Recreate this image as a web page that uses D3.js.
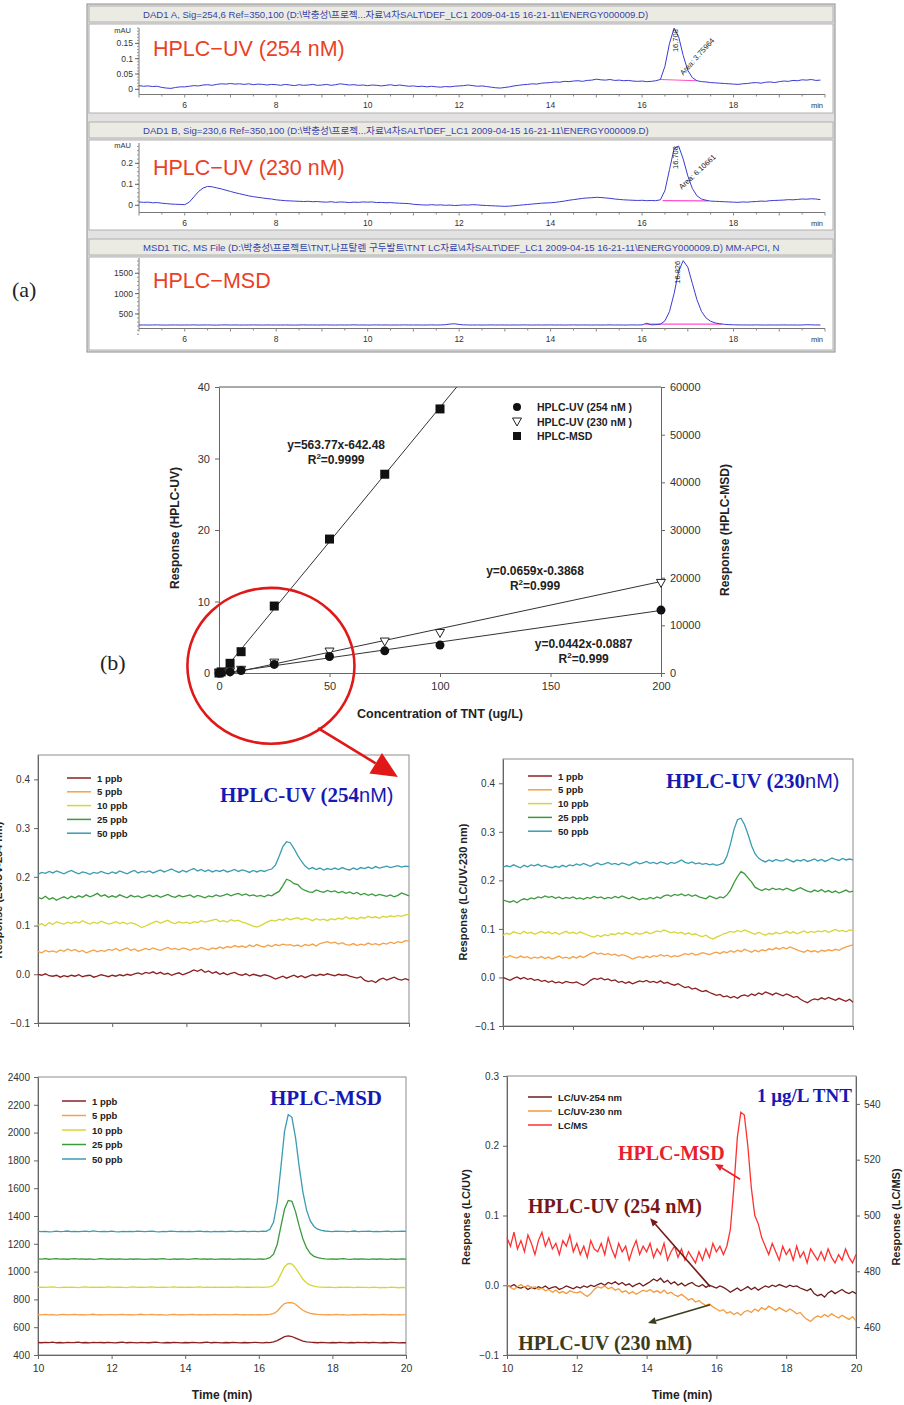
<!DOCTYPE html>
<meta charset="utf-8">
<title>TNT HPLC</title>
<style>
body { margin: 0; background: #fff; }
svg { display: block; font-family: "Liberation Sans", Arial, "Noto Sans CJK KR", sans-serif; }
</style>
<script src="https://d3js.org/d3.v7.min.js"></script>
<div id="chart"></div>
<script>

// ---------------- data : panel (a) chromatograms, 5.0 .. 19.9 min, every 0.1 min ----------------
var timeA = d3.range(150).map(function(i) { return 5 + i / 10; });

var uvA254 = [
  .012,.010,.011,.009,.010,.006,.004,.003,.006,.008, // 5
  .008,.010,.012,.011,.014,.015,.013,.016,.018,.017, // 6
  .019,.017,.018,.016,.018,.015,.017,.016,.014,.016, // 7
  .015,.013,.016,.014,.012,.015,.013,.014,.016,.013, // 8
  .014,.016,.013,.015,.018,.016,.014,.015,.013,.014, // 9
  .012,.014,.013,.011,.013,.015,.012,.014,.012,.010, // 10
  .011,.009,.010,.008,.010,.008,.007,.009,.008,.010, // 11
  .011,.012,.014,.012,.010,.011,.009,.007,.005,.004, // 12
  .006,.008,.011,.013,.015,.016,.018,.017,.020,.021, // 13
  .022,.024,.023,.026,.025,.027,.028,.026,.029,.030, // 14
  .033,.031,.030,.032,.029,.030,.028,.029,.027,.026, // 15
  .027,.025,.026,.028,.032,.075,.150,.200,.172,.110, // 16
  .062,.038,.028,.025,.024,.022,.021,.020,.019,.018, // 17
  .017,.016,.018,.019,.021,.022,.020,.023,.024,.022, // 18
  .025,.027,.026,.029,.028,.031,.030,.032,.029,.030  // 19
];

var uvA230 = [
  .016,.014,.015,.012,.013,.010,.008,.006,.005,.004,
  .003,.015,.040,.065,.082,.090,.088,.083,.078,.072,
  .066,.060,.055,.050,.045,.041,.038,.035,.032,.030,
  .026,.024,.022,.021,.020,.019,.018,.019,.017,.018,
  .016,.015,.017,.014,.016,.015,.013,.015,.014,.016,
  .015,.016,.013,.014,.012,.013,.011,.010,.009,.008,
  .005,.003,.002,.001,.003,.001,.002,.000,.001,-.001,
  .000,.002,.001,.003,.002,.000,-.001,-.002,-.003,-.004,
  -.005,-.004,-.002,.000,.002,.004,.006,.008,.010,.011,
  .012,.014,.017,.020,.024,.027,.030,.033,.035,.036,
  .038,.037,.035,.033,.030,.028,.026,.025,.024,.023,
  .024,.022,.023,.022,.026,.070,.170,.270,.282,.220,
  .140,.080,.045,.030,.024,.020,.019,.018,.017,.016,
  .015,.014,.016,.015,.017,.018,.020,.019,.022,.023,
  .024,.025,.027,.026,.028,.030,.029,.031,.030,.027
];

var msdA = [
  228,230,227,229,231,228,226,229,230,227,
  229,228,231,227,229,230,228,226,229,231,
  228,230,227,229,228,231,229,227,230,228,
  229,227,230,228,226,229,231,228,230,227,
  229,231,228,227,230,228,229,232,228,230,
  227,229,231,228,230,227,229,228,231,229,
  228,230,227,229,231,228,230,236,252,258,
  242,232,229,228,230,227,229,231,228,230,
  229,227,230,228,231,229,227,230,228,229,
  231,228,230,227,229,231,228,230,229,227,
  230,228,229,231,228,230,227,229,231,228,
  232,270,233,236,250,330,560,1000,1550,1810,
  1650,1250,850,560,400,320,280,258,245,238,
  233,231,229,230,228,231,229,227,230,228,
  229,231,228,230,227,229,236,232,230,229
];

var aHeaders = [
  "DAD1 A, Sig=254,6 Ref=350,100 (D:\\박충성\\프로젝...자료\\4차SALT\\DEF_LC1 2009-04-15 16-21-11\\ENERGY000009.D)",
  "DAD1 B, Sig=230,6 Ref=350,100 (D:\\박충성\\프로젝...자료\\4차SALT\\DEF_LC1 2009-04-15 16-21-11\\ENERGY000009.D)",
  "MSD1 TIC, MS File (D:\\박충성\\프로젝트\\TNT,나프탈렌 구두발트\\TNT LC자료\\4차SALT\\DEF_LC1 2009-04-15 16-21-11\\ENERGY000009.D)     MM-APCI, N"
];
var aLabels = ["HPLC\u2212UV (254 nM)", "HPLC\u2212UV (230 nM)", "HPLC\u2212MSD"];
var peakTimes = ["16.708", "16.708", "16.826"];
var peakAreas = ["Area: 3.75964", "Area: 6.10661", null];

// ---------------- data : panel (b) calibration ----------------
var concUV = [0, 1, 5, 10, 25, 50, 75, 100, 200];
var resp254 = [0, 0.05, 0.15, 0.35, 1.2, 2.3, 3.1, 3.9, 8.8];
var resp230 = [0, 0.05, 0.2, 0.45, 1.45, 3.0, 4.4, 5.6, 12.6];
var concMSD = [0, 1, 5, 10, 25, 50, 75, 100];
var respMSD = [0, 230, 2030, 4470, 14050, 28100, 41700, 55400];
var fit254 = [0.0442, -0.0887];
var fit230 = [0.0659, -0.3868];
var fitMSD = [563.77, -642.48];

// ---------------- data : lower chromatograms, 10.0 .. 20.0 min, every 0.1 min ----------------
var timeB = d3.range(101).map(function(i) { return 10 + i / 10; });
var ppbNames = ["1 ppb", "5 ppb", "10 ppb", "25 ppb", "50 ppb"];
var ppbColors = ["#8b2020", "#f5a046", "#d6d638", "#3c9a3c", "#3a9cb0"];

var uv254_1 = [
  .000,-.002,.001,-.003,-.004,-.002,-.006,-.003,-.005,-.002,
  -.004,-.001,-.005,-.003,-.002,-.006,-.004,-.001,-.003,-.005,
  -.002,-.004,-.001,-.003,.000,-.002,.001,.003,.000,.004,
  .002,.005,.001,.004,.000,.002,-.002,.001,.003,-.001,
  .002,.005,.009,.006,.010,.004,.007,.002,.005,.000,
  .003,-.001,.002,.004,.000,-.002,.001,-.003,.000,-.002,
  -.004,-.001,-.003,-.006,-.010,-.007,-.004,-.008,-.005,-.002,
  -.006,-.003,-.007,-.004,-.001,-.003,.000,-.002,.001,-.001,
  -.003,.000,-.002,-.001,-.004,-.006,-.008,-.005,-.012,-.015,
  -.013,-.017,-.011,-.008,-.012,-.009,-.006,-.010,-.012,-.009,
  -.012
];
var uv254_5 = [
  .047,.044,.049,.046,.048,.045,.050,.047,.052,.048,
  .051,.046,.049,.044,.047,.050,.046,.049,.047,.051,
  .049,.053,.048,.051,.054,.049,.052,.047,.050,.053,
  .050,.054,.051,.049,.052,.055,.051,.053,.050,.054,
  .052,.049,.053,.051,.055,.052,.050,.054,.052,.056,
  .053,.057,.055,.059,.056,.058,.055,.060,.057,.061,
  .058,.056,.060,.057,.061,.059,.062,.060,.061,.058,
  .060,.057,.061,.059,.062,.058,.063,.065,.067,.064,
  .066,.062,.065,.061,.060,.063,.059,.062,.060,.064,
  .061,.063,.060,.064,.062,.066,.063,.067,.065,.069,
  .068
];
var uv254_10 = [
  .100,.104,.099,.106,.102,.108,.105,.103,.107,.104,
  .108,.105,.110,.106,.103,.107,.104,.109,.106,.103,
  .105,.108,.104,.107,.103,.106,.104,.100,.096,.099,
  .103,.106,.109,.105,.108,.111,.106,.104,.108,.105,
  .107,.104,.108,.106,.110,.107,.109,.111,.113,.108,
  .110,.107,.112,.109,.111,.107,.105,.102,.099,.097,
  .100,.104,.108,.111,.109,.113,.111,.115,.112,.114,
  .116,.112,.115,.113,.110,.114,.111,.113,.110,.114,
  .112,.115,.113,.118,.114,.116,.113,.117,.115,.119,
  .116,.118,.115,.119,.117,.120,.118,.121,.119,.122,
  .123
];
var uv254_25 = [
  .158,.155,.160,.154,.157,.152,.156,.159,.155,.160,
  .157,.161,.158,.163,.159,.162,.166,.160,.163,.158,
  .161,.158,.163,.160,.157,.162,.159,.161,.157,.160,
  .163,.159,.162,.158,.161,.164,.160,.158,.162,.159,
  .161,.163,.158,.162,.160,.157,.161,.159,.163,.160,
  .162,.165,.161,.164,.166,.162,.165,.161,.163,.160,
  .162,.159,.163,.161,.166,.170,.182,.195,.192,.186,
  .184,.176,.172,.169,.168,.173,.170,.168,.172,.169,
  .171,.167,.170,.166,.169,.165,.168,.163,.166,.162,
  .165,.161,.164,.162,.160,.163,.159,.162,.167,.164,
  .161
];
var uv254_50 = [
  .205,.209,.207,.211,.208,.212,.209,.206,.210,.213,
  .209,.206,.210,.208,.205,.209,.207,.211,.208,.206,
  .210,.207,.212,.209,.206,.210,.213,.208,.211,.209,
  .212,.208,.211,.214,.210,.213,.216,.212,.209,.213,
  .210,.214,.217,.212,.215,.211,.214,.210,.213,.211,
  .214,.210,.212,.215,.211,.214,.212,.209,.213,.210,
  .213,.211,.214,.216,.224,.242,.262,.272,.270,.258,
  .244,.232,.222,.216,.219,.215,.218,.214,.217,.215,
  .218,.215,.219,.216,.214,.218,.215,.219,.217,.220,
  .217,.221,.218,.220,.222,.219,.221,.223,.220,.222,
  .221
];

var uv230_1 = [
  .000,-.003,-.006,-.002,.001,-.003,.000,-.004,-.002,-.006,
  -.004,-.008,-.006,-.010,-.007,-.011,-.009,-.012,-.008,-.010,
  -.011,-.009,-.013,-.016,-.012,-.006,-.002,-.004,-.001,-.005,
  -.003,-.007,-.005,-.010,-.008,-.012,-.009,-.013,-.010,-.007,
  -.009,-.006,-.010,-.008,-.011,-.007,-.012,-.010,-.014,-.016,
  -.013,-.017,-.021,-.019,-.024,-.022,-.026,-.029,-.027,-.031,
  -.034,-.037,-.035,-.040,-.038,-.042,-.039,-.043,-.038,-.036,
  -.039,-.034,-.037,-.032,-.035,-.030,-.033,-.036,-.032,-.035,
  -.038,-.034,-.037,-.041,-.039,-.045,-.049,-.052,-.047,-.044,
  -.046,-.042,-.045,-.041,-.044,-.047,-.043,-.046,-.049,-.045,
  -.051
];
var uv230_5 = [
  .044,.041,.045,.042,.040,.044,.041,.043,.039,.042,
  .040,.043,.039,.042,.038,.041,.044,.040,.042,.039,
  .043,.040,.044,.041,.045,.049,.052,.048,.050,.047,
  .049,.046,.048,.044,.047,.045,.042,.038,.041,.043,
  .040,.044,.041,.045,.043,.047,.044,.046,.042,.045,
  .043,.046,.049,.047,.050,.046,.048,.051,.049,.047,
  .050,.052,.049,.053,.051,.055,.052,.056,.053,.058,
  .055,.052,.056,.053,.057,.055,.059,.057,.061,.058,
  .062,.059,.063,.060,.057,.054,.052,.056,.053,.055,
  .052,.056,.054,.057,.055,.058,.056,.060,.063,.065,
  .067
];
var uv230_10 = [
  .087,.091,.089,.094,.092,.090,.095,.091,.093,.089,
  .092,.095,.091,.094,.090,.093,.089,.092,.095,.091,
  .093,.090,.094,.091,.088,.085,.083,.087,.084,.088,
  .086,.090,.088,.092,.089,.093,.091,.088,.092,.089,
  .091,.094,.090,.093,.096,.094,.098,.095,.092,.094,
  .091,.093,.089,.092,.088,.090,.086,.084,.087,.082,
  .079,.083,.086,.090,.092,.095,.093,.097,.094,.098,
  .095,.092,.089,.093,.090,.087,.091,.089,.093,.090,
  .092,.095,.091,.094,.090,.093,.096,.092,.095,.093,
  .096,.094,.097,.093,.096,.099,.095,.097,.094,.098,
  .097
];
var uv230_25 = [
  .160,.157,.155,.158,.154,.159,.162,.160,.164,.162,
  .166,.164,.168,.165,.167,.163,.166,.162,.165,.163,
  .166,.162,.164,.161,.165,.163,.167,.164,.166,.162,
  .165,.163,.167,.164,.168,.165,.162,.166,.163,.160,
  .163,.161,.165,.162,.166,.163,.168,.170,.167,.171,
  .169,.172,.168,.171,.167,.170,.166,.164,.162,.168,
  .165,.162,.166,.164,.170,.180,.195,.208,.218,.214,
  .205,.197,.186,.182,.179,.183,.180,.184,.181,.183,
  .180,.184,.181,.178,.182,.185,.181,.178,.176,.180,
  .177,.181,.176,.179,.175,.178,.174,.177,.180,.176,
  .178
];
var uv230_50 = [
  .227,.230,.228,.232,.229,.226,.231,.228,.232,.230,
  .233,.229,.231,.228,.226,.229,.227,.231,.228,.232,
  .230,.234,.231,.235,.232,.229,.233,.236,.232,.234,
  .237,.233,.235,.232,.236,.234,.231,.235,.238,.234,
  .236,.239,.235,.237,.234,.238,.236,.233,.237,.235,
  .238,.242,.237,.235,.238,.234,.236,.233,.235,.232,
  .234,.231,.233,.236,.250,.275,.305,.325,.328,.315,
  .295,.272,.255,.246,.241,.238,.242,.239,.243,.240,
  .240,.244,.241,.238,.242,.240,.243,.239,.241,.244,
  .240,.243,.239,.242,.246,.243,.241,.245,.242,.244,
  .242
];

var msd_1 = [
  490,488,491,489,492,488,490,487,491,489,
  490,492,488,490,487,491,489,490,488,491,
  489,487,490,492,488,490,489,487,491,489,
  488,490,492,489,487,490,488,491,489,487,
  490,488,491,489,487,490,492,488,490,489,
  487,490,488,491,489,487,490,488,489,491,
  489,487,490,489,494,503,518,532,537,533,
  522,510,500,495,492,490,488,491,489,487,
  490,488,491,489,487,490,488,491,489,490,
  488,491,489,487,490,488,491,489,487,489,
  488
];
var msd_5 = [
  690,688,692,689,691,687,690,692,688,690,
  692,689,691,688,690,693,689,691,688,690,
  691,688,690,692,689,691,688,690,693,689,
  690,692,688,691,689,687,690,692,689,691,
  688,690,692,689,691,688,690,689,692,688,
  690,691,688,690,692,689,691,688,690,689,
  691,688,690,692,698,715,745,770,777,776,
  765,742,722,708,700,695,692,690,688,691,
  689,692,688,690,687,689,691,688,690,692,
  689,691,688,690,692,689,691,688,690,689,
  691
];
var msd_10 = [
  887,889,886,888,890,887,885,888,886,889,
  887,885,888,890,887,889,886,888,887,890,
  888,886,889,887,885,888,890,887,889,886,
  888,890,887,886,889,887,888,890,886,888,
  887,889,886,888,890,887,889,886,888,887,
  889,886,888,887,890,888,886,889,887,889,
  888,886,889,890,900,930,982,1035,1058,1055,
  1025,985,945,918,903,895,890,888,886,889,
  887,885,888,886,889,887,885,888,886,887,
  885,888,886,884,887,885,888,886,884,886,
  885
];
var msd_25 = [
  1092,1090,1093,1089,1091,1094,1090,1092,1089,1091,
  1093,1090,1092,1089,1091,1088,1090,1093,1091,1089,
  1091,1089,1092,1090,1088,1091,1089,1092,1090,1088,
  1090,1092,1089,1091,1093,1090,1088,1091,1089,1092,
  1090,1088,1091,1093,1090,1092,1089,1091,1088,1090,
  1092,1089,1091,1088,1090,1092,1089,1091,1090,1088,
  1091,1089,1092,1100,1125,1195,1325,1450,1512,1505,
  1430,1325,1235,1170,1130,1110,1100,1095,1092,1090,
  1092,1089,1091,1093,1090,1088,1091,1089,1092,1090,
  1088,1091,1089,1092,1090,1088,1091,1089,1090,1092,
  1090
];
var msd_50 = [
  1290,1287,1289,1286,1288,1291,1287,1289,1292,1288,
  1290,1287,1289,1291,1288,1293,1289,1287,1290,1288,
  1291,1288,1286,1289,1287,1290,1288,1291,1289,1287,
  1289,1291,1288,1286,1290,1288,1291,1289,1287,1290,
  1288,1290,1287,1289,1291,1288,1290,1286,1289,1288,
  1290,1288,1291,1289,1287,1289,1291,1288,1290,1289,
  1288,1291,1290,1305,1355,1500,1750,2010,2130,2110,
  1960,1750,1570,1440,1365,1325,1305,1296,1292,1290,
  1288,1291,1289,1290,1287,1289,1292,1288,1290,1289,
  1291,1288,1290,1287,1289,1291,1288,1290,1289,1291,
  1290
];

// LC/MS trace of the 1 ug/L run (right axis)
var lcms_1 = [
  492,489,494,488,491,487,493,490,486,491,
  494,489,492,488,490,486,491,489,493,487,
  490,486,489,485,491,488,487,490,486,492,
  488,485,490,487,489,484,488,491,486,489,
  487,490,485,488,486,490,484,487,489,485,
  488,484,487,485,483,487,484,488,485,490,
  487,489,486,489,495,510,528,537,536,525,
  510,500,497,492,489,486,490,487,484,489,
  486,488,484,489,485,487,483,488,486,484,
  487,484,488,485,483,486,484,488,485,483,
  486
];

// ====================================================================
var svg = d3.select("#chart").append("svg")
  .attr("width", 904).attr("height", 1405);
svg.append("rect").attr("width", 904).attr("height", 1405).attr("fill", "#fff");

function styleAxis(g, size) {
  g.attr("font-family", null).attr("font-size", size);
  g.select(".domain").attr("stroke", "#666");
  g.selectAll(".tick line").attr("stroke", "#666");
  g.selectAll(".tick text").attr("fill", "#333");
}

// ---------------- panel (a) ----------------
svg.append("rect").attr("x", 87).attr("y", 4).attr("width", 748).attr("height", 348)
  .attr("fill", "#e2e2e2").attr("stroke", "#8c8c8c");

var xa = d3.scaleLinear().domain([5, 20]).range([139, 825]);
var aPanels = [
  { top: 6, bottom: 113, values: uvA254, y: d3.scaleLinear().domain([0, 0.2]).range([89.3, 28.1]),
    axisY: 94.5, yTop: 28, major: [0, 0.05, 0.1, 0.15], minorStep: 0.01, unit: "mAU", labelY: 56,
    base: [[16.4, 0.032], [17.2, 0.028]], peakPos: [16.78, 0.2], areaPos: [16.9, 0.044], areaAngle: -48 },
  { top: 122, bottom: 230, values: uvA230, y: d3.scaleLinear().domain([0, 0.1]).range([205.3, 184.3]),
    axisY: 212.5, yTop: 143, major: [0, 0.1, 0.2], minorStep: 0.02, unit: "mAU", labelY: 174.5,
    base: [[16.45, 0.022], [17.45, 0.021]], peakPos: [16.78, 0.287], areaPos: [16.87, 0.074], areaAngle: -43 },
  { top: 239, bottom: 350, values: msdA, y: d3.scaleLinear().domain([0, 1000]).range([334.3, 293.6]),
    axisY: 328.5, yTop: 258, major: [500, 1000, 1500], minorStep: 100, unit: null, labelY: 287.5,
    base: [[16.07, 250], [17.74, 250]], peakPos: [16.84, 1830], areaPos: null, areaAngle: 0 }
];

aPanels.forEach(function(p, i) {
  var g = svg.append("g");
  var y = p.y;
  var x0 = xa.range()[0], x1 = xa.range()[1];
  g.append("rect").attr("x", 89).attr("y", p.top).attr("width", 744).attr("height", 16)
    .attr("fill", "#ecebe3").attr("stroke", "#b0b0b0");
  g.append("rect").attr("x", 89).attr("y", p.top + 18).attr("width", 744).attr("height", p.bottom - p.top - 18)
    .attr("fill", "#fff").attr("stroke", "#b0b0b0");
  g.append("text").attr("x", 143).attr("y", p.top + 11.5).attr("font-size", 9.6)
    .attr("fill", "#3444aa").text(aHeaders[i]);

  // y axis
  g.append("line").attr("x1", x0).attr("x2", x0).attr("y1", p.axisY).attr("y2", p.yTop)
    .attr("stroke", "#777");
  var vmax = y.invert(p.yTop);
  d3.range(0, vmax, p.minorStep).forEach(function(v) {
    g.append("line").attr("x1", x0 - 2).attr("x2", x0).attr("y1", y(v)).attr("y2", y(v)).attr("stroke", "#999");
  });
  p.major.forEach(function(v) {
    g.append("line").attr("x1", x0 - 4).attr("x2", x0).attr("y1", y(v)).attr("y2", y(v)).attr("stroke", "#666");
    g.append("text").attr("x", x0 - 6).attr("y", y(v) + 3).attr("text-anchor", "end")
      .attr("font-size", 8.5).attr("fill", "#333").text(String(v));
  });
  if (p.unit) {
    g.append("text").attr("x", x0 - 8).attr("y", p.yTop + 5).attr("text-anchor", "end")
      .attr("font-size", 7.5).attr("fill", "#333").text(p.unit);
  }

  // x axis
  g.append("line").attr("x1", x0).attr("x2", x1).attr("y1", p.axisY).attr("y2", p.axisY).attr("stroke", "#777");
  d3.range(0, 31).forEach(function(k) {
    var t = 5 + k / 2;
    g.append("line").attr("x1", xa(t)).attr("x2", xa(t)).attr("y1", p.axisY)
      .attr("y2", p.axisY + (k % 2 === 0 ? 3 : 2)).attr("stroke", "#888");
  });
  [6, 8, 10, 12, 14, 16, 18].forEach(function(t) {
    g.append("text").attr("x", xa(t)).attr("y", p.axisY + 13).attr("text-anchor", "middle")
      .attr("font-size", 8.5).attr("fill", "#333").text(t);
  });
  g.append("text").attr("x", x1 - 2).attr("y", p.axisY + 13).attr("text-anchor", "end")
    .attr("font-size", 7.5).attr("fill", "#333").text("min");

  // integration baseline
  g.append("line").attr("x1", xa(p.base[0][0])).attr("y1", y(p.base[0][1]))
    .attr("x2", xa(p.base[1][0])).attr("y2", y(p.base[1][1]))
    .attr("stroke", "#ff4fc8").attr("stroke-width", 1.2);

  // trace
  var line = d3.line().x(function(d, k) { return xa(timeA[k]); }).y(function(d) { return y(d); });
  g.append("path").datum(p.values).attr("d", line).attr("fill", "none")
    .attr("stroke", "#3b3bd6").attr("stroke-width", 1);

  // peak annotations
  g.append("text").attr("transform", "translate(" + xa(p.peakPos[0]) + "," + (y(p.peakPos[1]) + 1) + ") rotate(-90)")
    .attr("text-anchor", "end").attr("font-size", 7.5).attr("fill", "#222").text(peakTimes[i]);
  if (p.areaPos) {
    g.append("text").attr("transform", "translate(" + xa(p.areaPos[0]) + "," + y(p.areaPos[1]) + ") rotate(" + p.areaAngle + ")")
      .attr("font-size", 7.5).attr("fill", "#222").text(peakAreas[i]);
  }

  // big red label
  g.append("text").attr("x", 153).attr("y", p.labelY).attr("font-size", 21.5)
    .attr("fill", "#ea4125").text(aLabels[i]);
});

svg.append("text").attr("x", 12).attr("y", 297).attr("font-family", "Liberation Serif, serif")
  .attr("font-size", 22).attr("fill", "#222").text("(a)");
svg.append("text").attr("x", 100).attr("y", 670).attr("font-family", "Liberation Serif, serif")
  .attr("font-size", 22).attr("fill", "#222").text("(b)");

// ---------------- panel (b) calibration ----------------
var xb = d3.scaleLinear().domain([0, 200]).range([219, 661]);
var ybL = d3.scaleLinear().domain([0, 40]).range([673, 387]);
var ybR = d3.scaleLinear().domain([0, 60000]).range([673, 387]);
var gb = svg.append("g");

gb.append("clipPath").attr("id", "clipB").append("rect")
  .attr("x", 219).attr("y", 387).attr("width", 442).attr("height", 286);

gb.append("line").attr("x1", 219).attr("x2", 661).attr("y1", 387).attr("y2", 387).attr("stroke", "#555");
var gbx = gb.append("g").attr("transform", "translate(0,673)")
  .call(d3.axisBottom(xb).tickValues([0, 50, 100, 150, 200]).tickSize(4).tickSizeOuter(0).tickPadding(5));
styleAxis(gbx, 11);
var gby = gb.append("g").attr("transform", "translate(219,0)")
  .call(d3.axisLeft(ybL).tickValues([0, 10, 20, 30, 40]).tickSize(4).tickSizeOuter(0).tickPadding(5));
styleAxis(gby, 11);
var gbr = gb.append("g").attr("transform", "translate(661,0)")
  .call(d3.axisRight(ybR).tickValues(d3.range(0, 60001, 10000)).tickSize(4).tickSizeOuter(0)
    .tickPadding(5).tickFormat(d3.format("d")));
styleAxis(gbr, 11);

var fits = gb.append("g").attr("clip-path", "url(#clipB)");
[[fit254, 0, 200, ybL], [fit230, 0, 200, ybL], [fitMSD, 0, 120, ybR]].forEach(function(f) {
  var c = f[0];
  fits.append("line").attr("x1", xb(f[1])).attr("y1", f[3](c[0] * f[1] + c[1]))
    .attr("x2", xb(f[2])).attr("y2", f[3](c[0] * f[2] + c[1]))
    .attr("stroke", "#333").attr("stroke-width", 1);
});

var triPath = "M-4.5,-3.5L4.5,-3.5L0,4.5Z";
gb.selectAll(".sq").data(concMSD).enter().append("rect")
  .attr("x", function(d) { return xb(d) - 4.5; })
  .attr("y", function(d, i) { return ybR(respMSD[i]) - 4.5; })
  .attr("width", 9).attr("height", 9).attr("fill", "#111");
gb.selectAll(".tri").data(concUV).enter().append("path")
  .attr("d", triPath)
  .attr("transform", function(d, i) { return "translate(" + xb(d) + "," + ybL(resp230[i]) + ")"; })
  .attr("fill", "#fff").attr("stroke", "#222");
gb.selectAll(".cir").data(concUV).enter().append("circle")
  .attr("cx", function(d) { return xb(d); })
  .attr("cy", function(d, i) { return ybL(resp254[i]); })
  .attr("r", 4.5).attr("fill", "#111");

// legend
var legB = [["circle", "HPLC-UV (254 nM )"], ["tri", "HPLC-UV (230 nM )"], ["square", "HPLC-MSD"]];
legB.forEach(function(l, i) {
  var ly = 407 + i * 14.5;
  if (l[0] === "circle") gb.append("circle").attr("cx", 517).attr("cy", ly).attr("r", 4).attr("fill", "#111");
  if (l[0] === "tri") gb.append("path").attr("d", triPath).attr("transform", "translate(517," + ly + ")")
    .attr("fill", "#fff").attr("stroke", "#222");
  if (l[0] === "square") gb.append("rect").attr("x", 513).attr("y", ly - 4).attr("width", 8).attr("height", 8).attr("fill", "#111");
  gb.append("text").attr("x", 537).attr("y", ly + 4).attr("font-size", 10.5).attr("font-weight", "bold")
    .attr("fill", "#222").text(l[1]);
});

// equations
var eqs = [
  ["y=563.77x-642.48", "0.9999", 53, 31.3],
  ["y=0.0659x-0.3868", "0.999", 143, 13.7],
  ["y=0.0442x-0.0887", "0.999", 165, 3.5]
];
eqs.forEach(function(e) {
  gb.append("text").attr("x", xb(e[2])).attr("y", ybL(e[3])).attr("text-anchor", "middle")
    .attr("font-size", 12).attr("font-weight", "bold").attr("fill", "#222").text(e[0]);
  var r = gb.append("text").attr("x", xb(e[2])).attr("y", ybL(e[3]) + 15).attr("text-anchor", "middle")
    .attr("font-size", 12).attr("font-weight", "bold").attr("fill", "#222");
  r.append("tspan").text("R");
  r.append("tspan").attr("dy", -5).attr("font-size", 8).text("2");
  r.append("tspan").attr("dy", 5).text("=" + e[1]);
});

gb.append("text").attr("transform", "translate(179,528) rotate(-90)").attr("text-anchor", "middle")
  .attr("font-size", 12).attr("font-weight", "bold").attr("fill", "#222").text("Response (HPLC-UV)");
gb.append("text").attr("transform", "translate(729,530) rotate(-90)").attr("text-anchor", "middle")
  .attr("font-size", 12).attr("font-weight", "bold").attr("fill", "#222").text("Response (HPLC-MSD)");
gb.append("text").attr("x", 440).attr("y", 718).attr("text-anchor", "middle")
  .attr("font-size", 12.5).attr("font-weight", "bold").attr("fill", "#222").text("Concentration of TNT (ug/L)");

// ---------------- lower chromatogram plots ----------------
function tracePlot(o) {
  var x = d3.scaleLinear().domain([10, 20]).range(o.xr);
  var y = d3.scaleLinear().domain(o.yd).range(o.yr);
  var g = svg.append("g");
  g.append("rect").attr("x", o.xr[0]).attr("y", o.yr[1]).attr("width", o.xr[1] - o.xr[0])
    .attr("height", o.yr[0] - o.yr[1]).attr("fill", "none").attr("stroke", "#8c8c8c");
  var gx = g.append("g").attr("transform", "translate(0," + o.yr[0] + ")")
    .call(d3.axisBottom(x).tickValues(d3.range(10, 21, 2)).tickSize(4).tickSizeOuter(0)
      .tickPadding(6).tickFormat(o.xLabels ? d3.format("d") : ""));
  styleAxis(gx, 10.5);
  var gy = g.append("g").attr("transform", "translate(" + o.xr[0] + ",0)")
    .call(d3.axisLeft(y).tickValues(o.yTicks).tickSize(4).tickSizeOuter(0).tickPadding(4).tickFormat(o.yFmt));
  styleAxis(gy, 10);
  var line = d3.line().x(function(d, k) { return x(timeB[k]); }).y(function(d) { return y(d); });
  o.series.forEach(function(s) {
    g.append("path").datum(s.values).attr("d", line).attr("fill", "none")
      .attr("stroke", s.color).attr("stroke-width", 1.3);
  });
  o.legend.forEach(function(s, i) {
    var ly = o.legY + i * o.legStep;
    g.append("line").attr("x1", o.legX).attr("x2", o.legX + 24).attr("y1", ly).attr("y2", ly)
      .attr("stroke", s.color).attr("stroke-width", 1.5);
    g.append("text").attr("x", o.legX + 30).attr("y", ly + 3.5).attr("font-size", 9.5)
      .attr("font-weight", "bold").attr("fill", "#222").text(s.name);
  });
  return { x: x, y: y, g: g };
}

function blueTitle(g, x, y, size, serifPart, sansPart) {
  var t = g.append("text").attr("x", x).attr("y", y).attr("fill", "#1818b4");
  t.append("tspan").attr("font-family", "Liberation Serif, serif").attr("font-weight", "bold")
    .attr("font-size", size).text(serifPart);
  if (sansPart) t.append("tspan").attr("font-family", "Liberation Sans, sans-serif")
    .attr("font-size", size - 1).text(sansPart);
}

var f1 = d3.format(".1f");
var ppbSeries = function(arrs) {
  return arrs.map(function(a, i) { return { name: ppbNames[i], color: ppbColors[i], values: a }; });
};

// HPLC-UV 254
var s254 = ppbSeries([uv254_1, uv254_5, uv254_10, uv254_25, uv254_50]);
var pA = tracePlot({ xr: [38, 409], yr: [1023, 755], yd: [-0.1, 0.45], yTicks: [-0.1, 0, 0.1, 0.2, 0.3, 0.4],
  yFmt: f1, xLabels: false, series: s254, legend: s254, legX: 67, legY: 778, legStep: 13.8 });
blueTitle(pA.g, 220, 802, 21, "HPLC-UV (254", "nM)");
svg.append("text").attr("transform", "translate(2,890) rotate(-90)").attr("text-anchor", "middle")
  .attr("font-size", 11).attr("font-weight", "bold").attr("fill", "#222").text("Response (LC/UV-254 nm)");

// HPLC-UV 230
var s230 = ppbSeries([uv230_1, uv230_5, uv230_10, uv230_25, uv230_50]);
var pB = tracePlot({ xr: [503, 853], yr: [1026, 759], yd: [-0.1, 0.45], yTicks: [-0.1, 0, 0.1, 0.2, 0.3, 0.4],
  yFmt: f1, xLabels: false, series: s230, legend: s230, legX: 528, legY: 776, legStep: 13.8 });
blueTitle(pB.g, 666, 788, 21, "HPLC-UV (230", "nM)");
svg.append("text").attr("transform", "translate(467,892) rotate(-90)").attr("text-anchor", "middle")
  .attr("font-size", 11).attr("font-weight", "bold").attr("fill", "#222").text("Response (LC/UV-230 nm)");

// HPLC-MSD
var sMsd = ppbSeries([msd_1, msd_5, msd_10, msd_25, msd_50]);
var pC = tracePlot({ xr: [38, 406], yr: [1355, 1077], yd: [400, 2400], yTicks: d3.range(400, 2401, 200),
  yFmt: d3.format("d"), xLabels: true, series: sMsd, legend: sMsd, legX: 62, legY: 1101, legStep: 14.5 });
blueTitle(pC.g, 270, 1105, 21, "HPLC-MSD", null);
svg.append("text").attr("x", 222).attr("y", 1399).attr("text-anchor", "middle")
  .attr("font-size", 12).attr("font-weight", "bold").attr("fill", "#222").text("Time (min)");

// 1 ug/L comparison
var sCmp = [
  { name: "LC/UV-254 nm", color: "#6e1c1c", values: uv254_1 },
  { name: "LC/UV-230 nm", color: "#f39a3c", values: uv230_1 }
];
var pD = tracePlot({ xr: [507, 856], yr: [1355, 1076], yd: [-0.1, 0.3], yTicks: [-0.1, 0, 0.1, 0.2, 0.3],
  yFmt: f1, xLabels: true, series: sCmp, legend: sCmp.concat([{ name: "LC/MS", color: "#ff3030" }]),
  legX: 528, legY: 1097, legStep: 14 });
var yD2 = d3.scaleLinear().domain([450, 550]).range([1355, 1076]);
var gd2 = pD.g.append("g").attr("transform", "translate(856,0)")
  .call(d3.axisRight(yD2).tickValues([460, 480, 500, 520, 540]).tickSize(4).tickSizeOuter(0).tickPadding(4));
styleAxis(gd2, 10);
pD.g.append("path").datum(lcms_1)
  .attr("d", d3.line().x(function(d, k) { return pD.x(timeB[k]); }).y(function(d) { return yD2(d); }))
  .attr("fill", "none").attr("stroke", "#ff3030").attr("stroke-width", 1.3);
blueTitle(pD.g, 757, 1102, 19, "1 \u03bcg/L TNT", null);
svg.append("text").attr("x", 682).attr("y", 1399).attr("text-anchor", "middle")
  .attr("font-size", 12).attr("font-weight", "bold").attr("fill", "#222").text("Time (min)");
svg.append("text").attr("transform", "translate(470,1217) rotate(-90)").attr("text-anchor", "middle")
  .attr("font-size", 11).attr("font-weight", "bold").attr("fill", "#222").text("Response (LC/UV)");
svg.append("text").attr("transform", "translate(900,1217) rotate(-90)").attr("text-anchor", "middle")
  .attr("font-size", 11).attr("font-weight", "bold").attr("fill", "#222").text("Response (LC/MS)");

// arrows + labels in data units of plot D (left axis)
function arrow(g, x0, y0, x1, y1, color, len, half, width) {
  var a = Math.atan2(y1 - y0, x1 - x0);
  var bx = x1 - len * Math.cos(a), by = y1 - len * Math.sin(a);
  g.append("line").attr("x1", x0).attr("y1", y0).attr("x2", bx).attr("y2", by)
    .attr("stroke", color).attr("stroke-width", width);
  g.append("path").attr("d", "M" + x1 + "," + y1 +
      "L" + (bx + half * Math.sin(a)) + "," + (by - half * Math.cos(a)) +
      "L" + (bx - half * Math.sin(a)) + "," + (by + half * Math.cos(a)) + "Z")
    .attr("fill", color);
}
var notes = [
  { text: "HPLC-MSD", color: "#e8202a", at: [13.18, 0.18], from: [16.68, 0.152], to: [15.96, 0.174] },
  { text: "HPLC-UV (254 nM)", color: "#761818", at: [10.6, 0.104], from: [15.82, -0.002], to: [14.1, 0.096] },
  { text: "HPLC-UV (230 nM)", color: "#3b3b1e", at: [10.32, -0.093], from: [15.82, -0.028], to: [14.04, -0.054] }
];
notes.forEach(function(n) {
  pD.g.append("text").attr("x", pD.x(n.at[0])).attr("y", pD.y(n.at[1]))
    .attr("font-family", "Liberation Serif, serif").attr("font-weight", "bold").attr("font-size", 20)
    .attr("fill", n.color).text(n.text);
  arrow(pD.g, pD.x(n.from[0]), pD.y(n.from[1]), pD.x(n.to[0]), pD.y(n.to[1]), n.color, 8, 3.5, 1.6);
});

// red zoom ring on the calibration plot and arrow to the 254 nm plot
var ring = { cx: 23.5, cy: 1.0, rx: 37.8, ry: 10.9 };
svg.append("ellipse").attr("cx", xb(ring.cx)).attr("cy", ybL(ring.cy))
  .attr("rx", xb(ring.rx) - xb(0)).attr("ry", ybL(0) - ybL(ring.ry))
  .attr("fill", "none").attr("stroke", "#e01818").attr("stroke-width", 2.6);
arrow(svg, xb(44.8), ybL(-7.7), pA.x(19.7), pA.y(0.405), "#e01818", 26, 12, 2.6);

</script>
